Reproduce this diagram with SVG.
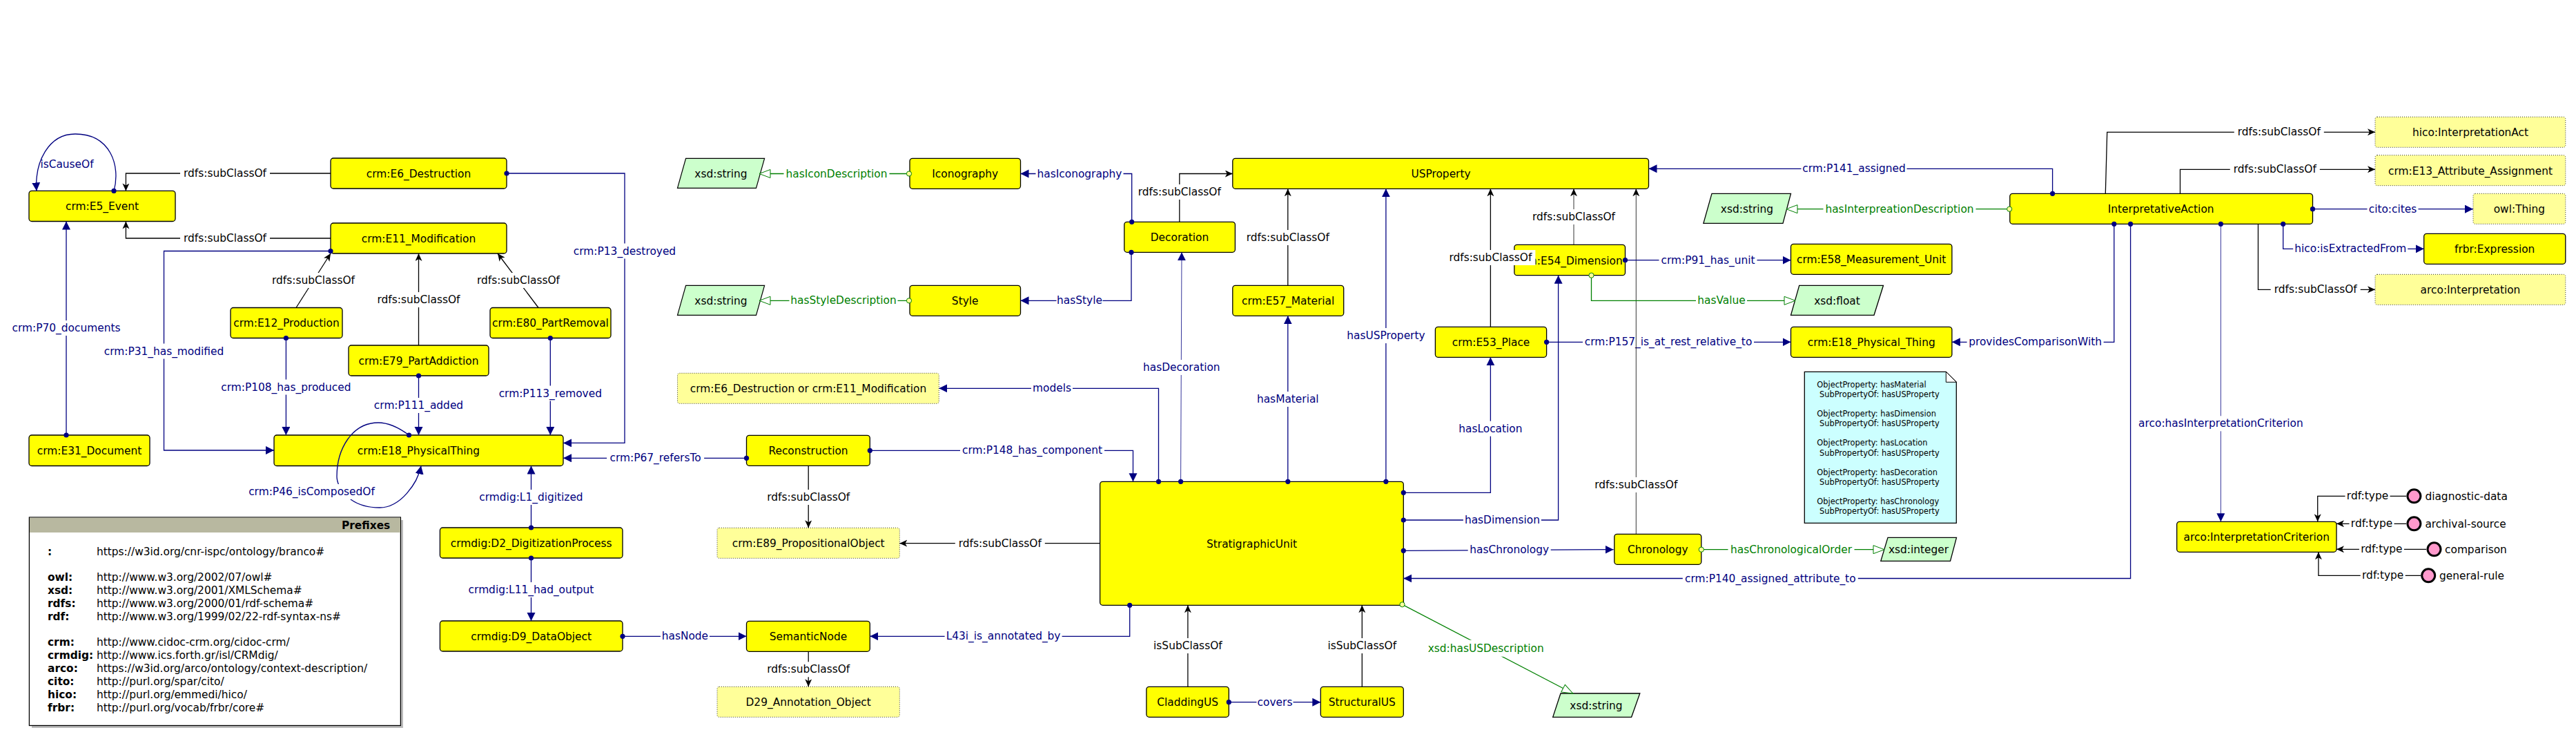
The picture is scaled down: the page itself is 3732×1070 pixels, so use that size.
<svg xmlns="http://www.w3.org/2000/svg" width="3732" height="1070" viewBox="0 0 3732 1070">
<style>
text{font-family:"DejaVu Sans","Liberation Sans",sans-serif;font-size:15.4px;text-anchor:middle;fill:#000}
.n{fill:#ff0;stroke:#000;stroke-width:1.3}
.d{fill:#ff9;stroke:#333;stroke-width:1;stroke-dasharray:1 2}
.p{fill:#cfc;stroke:#000;stroke-width:1.2}
.l text,.i text{text-anchor:start}
.bg{fill:#fff}
path{fill:none;stroke-width:1.3}
.o path{stroke:#000080;marker-start:url(#dot);marker-end:url(#na)}
.o text{fill:#000080}
.s path{stroke:#000;marker-end:url(#ba)}
.g path{stroke:#008000;marker-start:url(#oc);marker-end:url(#gt)}
.g text{fill:#008000}
path.t{stroke-width:.8}
.i ellipse{fill:#f9c;stroke:#000;stroke-width:3}
#note text{font-size:11.4px;text-anchor:start}
#prefixes b,.h{font-weight:bold}
</style>
<defs>
<marker id="dot" markerUnits="userSpaceOnUse" markerWidth="10" markerHeight="10" refX="5" refY="5"><circle cx="5" cy="5" r="3.6" fill="#000080"/></marker>
<marker id="oc" markerUnits="userSpaceOnUse" markerWidth="10" markerHeight="10" refX="5" refY="5"><circle cx="5" cy="5" r="3.6" fill="#ff9" stroke="#008000"/></marker>
<marker id="na" markerUnits="userSpaceOnUse" markerWidth="14" markerHeight="14" refX="12" refY="6" orient="auto"><path d="M0,0L12,6L0,12Z" style="fill:#000080;stroke:none"/></marker>
<marker id="ba" markerUnits="userSpaceOnUse" markerWidth="14" markerHeight="14" refX="11" refY="5" orient="auto"><path d="M0,0L11,5L0,10L3,5Z" style="fill:#000;stroke:none"/></marker>
<marker id="gt" markerUnits="userSpaceOnUse" markerWidth="20" markerHeight="16" refX="17" refY="7" orient="auto"><path d="M1,1L17,7L1,13Z" style="fill:#fff;stroke:#008000;stroke-width:1"/></marker>
</defs>
<rect width="3732" height="1070" fill="#fff"/>

<g id="E5"><rect class="n" x="42" y="276.4" width="212" height="44.1" rx="4"/><text x="148" y="304">crm:E5_Event</text></g>
<g id="E6"><rect class="n" x="479" y="229" width="255" height="44" rx="4"/><text x="606.5" y="256.5">crm:E6_Destruction</text></g>
<g id="E11"><rect class="n" x="479" y="323" width="255" height="44" rx="4"/><text x="606.5" y="350.5">crm:E11_Modification</text></g>
<g id="E12"><rect class="n" x="334" y="445.5" width="162" height="44" rx="4"/><text x="415" y="473">crm:E12_Production</text></g>
<g id="E79"><rect class="n" x="505" y="500" width="203" height="44" rx="4"/><text x="606.5" y="527.5">crm:E79_PartAddiction</text></g>
<g id="E80"><rect class="n" x="710" y="445.5" width="175" height="44" rx="4"/><text x="797.5" y="473">crm:E80_PartRemoval</text></g>
<g id="E31"><rect class="n" x="42" y="630" width="175" height="44.5" rx="4"/><text x="129.5" y="657.5">crm:E31_Document</text></g>
<g id="E18"><rect class="n" x="397" y="630" width="419" height="44.5" rx="4"/><text x="606.5" y="657.5">crm:E18_PhysicalThing</text></g>
<g id="D2"><rect class="n" x="637.4" y="764" width="264.6" height="44" rx="4"/><text x="769.7" y="791.5">crmdig:D2_DigitizationProcess</text></g>
<g id="D9"><rect class="n" x="637.4" y="899" width="264.6" height="44" rx="4"/><text x="769.7" y="927">crmdig:D9_DataObject</text></g>
<g id="string1"><path class="p" d="M993.6,229.3H1107.6L1095.5,272.3H981.5Z" style="fill:#cfc;stroke:#000"/><text x="1044.5" y="256.5">xsd:string</text></g>
<g id="string2"><path class="p" d="M993.6,413.3H1107.6L1095.5,456.3H981.5Z" style="fill:#cfc;stroke:#000"/><text x="1044.5" y="440.5">xsd:string</text></g>
<g id="Iconography"><rect class="n" x="1318" y="229.3" width="160.5" height="44" rx="4"/><text x="1398.2" y="257">Iconography</text></g>
<g id="Style"><rect class="n" x="1318" y="413.3" width="160.5" height="44" rx="4"/><text x="1398.2" y="441">Style</text></g>
<g id="Decoration"><rect class="n" x="1628.8" y="321.3" width="160.6" height="44" rx="4"/><text x="1709" y="349">Decoration</text></g>
<g id="USProperty"><rect class="n" x="1785.8" y="229.3" width="602.7" height="44" rx="4"/><text x="2087.5" y="257">USProperty</text></g>
<g id="E57"><rect class="n" x="1785.8" y="413.3" width="160.9" height="44" rx="4"/><text x="1866.2" y="441">crm:E57_Material</text></g>
<g id="E6orE11"><rect class="d" x="981.5" y="540.3" width="378.8" height="44" rx="3"/><text x="1171" y="568">crm:E6_Destruction or crm:E11_Modification</text></g>
<g id="Reconstruction"><rect class="n" x="1081.5" y="630.3" width="178.8" height="44" rx="4"/><text x="1171" y="658">Reconstruction</text></g>
<g id="E89"><rect class="d" x="1039" y="764.3" width="264.3" height="44" rx="3"/><text x="1171.2" y="792">crm:E89_PropositionalObject</text></g>
<g id="SemanticNode"><rect class="n" x="1081.5" y="899.3" width="178.8" height="44" rx="4"/><text x="1171" y="927">SemanticNode</text></g>
<g id="D29"><rect class="d" x="1039" y="994.3" width="264.3" height="44" rx="3"/><text x="1171.2" y="1022">D29_Annotation_Object</text></g>
<g id="StratigraphicUnit"><rect class="n" x="1593.6" y="697.3" width="439.7" height="179" rx="4"/><text x="1813.5" y="792.5">StratigraphicUnit</text></g>
<g id="CladdingUS"><rect class="n" x="1660.9" y="994.3" width="119.4" height="44" rx="4"/><text x="1720.6" y="1022">CladdingUS</text></g>
<g id="StructuralUS"><rect class="n" x="1913.3" y="994.3" width="120" height="44" rx="4"/><text x="1973.3" y="1022">StructuralUS</text></g>
<g id="E53"><rect class="n" x="2079.4" y="473.3" width="161.2" height="44" rx="4"/><text x="2160" y="501">crm:E53_Place</text></g>
<g id="E54"><rect class="n" x="2193.9" y="354.3" width="160.6" height="44.4" rx="4"/><text x="2274" y="382.5">crm:E54_Dimension</text></g>
<g id="E58"><rect class="n" x="2594.5" y="353.3" width="233.4" height="44" rx="4"/><text x="2711.2" y="381">crm:E58_Measurement_Unit</text></g>
<g id="E18b"><rect class="n" x="2594.5" y="473.3" width="233.4" height="44" rx="4"/><text x="2711.2" y="501">crm:E18_Physical_Thing</text></g>
<g id="string3"><path d="M2480,280.3H2594.5L2583,323.3H2467.9Z" style="fill:#cfc;stroke:#000"/><text x="2531" y="308">xsd:string</text></g>
<g id="float"><path d="M2606.7,413.3H2728.5L2715,456.3H2594.5Z" style="fill:#cfc;stroke:#000"/><text x="2661.5" y="441">xsd:float</text></g>
<g id="Chronology"><rect class="n" x="2338.8" y="773.3" width="126" height="44" rx="4"/><text x="2401.8" y="801">Chronology</text></g>
<g id="integer"><path d="M2735,778.3H2834.5L2825.5,812.3H2724.8Z" style="fill:#cfc;stroke:#000"/><text x="2779.5" y="801">xsd:integer</text></g>
<g id="string4"><path d="M2261,1004H2375.8L2363.6,1038.3H2249.7Z" style="fill:#cfc;stroke:#000"/><text x="2312.5" y="1027">xsd:string</text></g>
<g id="note"><path d="M2614.3,538.3H2819.3L2834.3,553.3V757.3H2614.3Z" style="fill:#cff;stroke:#000"/><path d="M2819.3,538.3V553.3H2834.3Z" style="fill:#fff;stroke:#000;stroke-width:1"/>
<text x="2632.3" y="560.7">ObjectProperty: hasMaterial</text><text x="2636" y="575">SubPropertyOf: hasUSProperty</text>
<text x="2632.3" y="602.7">ObjectProperty: hasDimension</text><text x="2636" y="616.7">SubPropertyOf: hasUSProperty</text>
<text x="2632.3" y="644.7">ObjectProperty: hasLocation</text><text x="2636" y="660">SubPropertyOf: hasUSProperty</text>
<text x="2632.3" y="687.7">ObjectProperty: hasDecoration</text><text x="2636" y="702">SubPropertyOf: hasUSProperty</text>
<text x="2632.3" y="730">ObjectProperty: hasChronology</text><text x="2636" y="744">SubPropertyOf: hasUSProperty</text></g>
<g id="InterpretativeAction"><rect class="n" x="2911.8" y="280.3" width="438.7" height="44" rx="4"/><text x="3130.6" y="308">InterpretativeAction</text></g>
<g id="hico"><rect class="d" x="3441" y="169.3" width="275.8" height="44" rx="3"/><text x="3579" y="197">hico:InterpretationAct</text></g>
<g id="E13"><rect class="d" x="3441" y="224.7" width="275.8" height="44" rx="3"/><text x="3579" y="252.5">crm:E13_Attribute_Assignment</text></g>
<g id="owlThing"><rect class="d" x="3583" y="280.3" width="133.8" height="44" rx="3"/><text x="3649.9" y="308">owl:Thing</text></g>
<g id="Expression"><rect class="n" x="3511.7" y="338.3" width="205.1" height="44" rx="4"/><text x="3614.2" y="366">frbr:Expression</text></g>
<g id="arcoInterpretation"><rect class="d" x="3441" y="397.3" width="275.8" height="44" rx="3"/><text x="3579" y="425">arco:Interpretation</text></g>
<g id="Criterion"><rect class="n" x="3153.7" y="755.3" width="231.3" height="44" rx="4"/><text x="3269.3" y="783">arco:InterpretationCriterion</text></g>
<g id="diagnostic" class="i"><ellipse cx="3497.4" cy="718.3" rx="9.5" ry="9.5"/><text x="3513.4" y="724">diagnostic-data</text></g>
<g id="archival" class="i"><ellipse cx="3497.4" cy="758.3" rx="9.5" ry="9.5"/><text x="3513.4" y="764">archival-source</text></g>
<g id="comparison" class="i"><ellipse cx="3526.5" cy="795.3" rx="9.5" ry="9.5"/><text x="3542" y="801">comparison</text></g>
<g id="general" class="i"><ellipse cx="3518.2" cy="833.3" rx="9.5" ry="9.5"/><text x="3534" y="839">general-rule</text></g>

<g id="prefixes"><rect x="46" y="753" width="538" height="301" fill="#bbb"/><rect x="42.4" y="749" width="538" height="301.5" fill="#fff" stroke="#000" stroke-width="1.3"/><rect x="43" y="749.6" width="537" height="21.4" fill="#b8b8a0"/>
<g class="l"><text class="h" x="495" y="766">Prefixes</text>
<text class="h" x="69" y="804">:</text><text x="140" y="804">https://w3id.org/cnr-ispc/ontology/branco#</text>
<text class="h" x="69" y="841">owl:</text><text x="140" y="841">http://www.w3.org/2002/07/owl#</text>
<text class="h" x="69" y="860">xsd:</text><text x="140" y="860">http://www.w3.org/2001/XMLSchema#</text>
<text class="h" x="69" y="879">rdfs:</text><text x="140" y="879">http://www.w3.org/2000/01/rdf-schema#</text>
<text class="h" x="69" y="898">rdf:</text><text x="140" y="898">http://www.w3.org/1999/02/22-rdf-syntax-ns#</text>
<text class="h" x="69" y="935">crm:</text><text x="140" y="935">http://www.cidoc-crm.org/cidoc-crm/</text>
<text class="h" x="69" y="954">crmdig:</text><text x="140" y="954">http://www.ics.forth.gr/isl/CRMdig/</text>
<text class="h" x="69" y="973">arco:</text><text x="140" y="973">https://w3id.org/arco/ontology/context-description/</text>
<text class="h" x="69" y="992">cito:</text><text x="140" y="992">http://purl.org/spar/cito/</text>
<text class="h" x="69" y="1011">hico:</text><text x="140" y="1011">http://purl.org/emmedi/hico/</text>
<text class="h" x="69" y="1030">frbr:</text><text x="140" y="1030">http://purl.org/vocab/frbr/core#</text></g></g>

<g id="connectors">
<g class="o"><path d="M165,276.4C175,240 160,194 109,194C70,194 50,235 53,276.4"/><text x="97" y="243">isCauseOf</text></g>
<g class="s"><path d="M479,251H182.4V276.4"/><rect class="bg" x="261" y="240" width="130" height="22"/><text x="326" y="256">rdfs:subClassOf</text></g>
<g class="s"><path d="M479,345H182.4V320.5"/><rect class="bg" x="261" y="334" width="130" height="22"/><text x="326" y="350">rdfs:subClassOf</text></g>
<g class="o"><path d="M96,630V320.5"/><rect class="bg" x="15" y="464" width="162" height="22"/><text x="96" y="480">crm:P70_documents</text></g>
<g class="o"><path d="M479,363.5H237.5V652H397"/><rect class="bg" x="148" y="497.5" width="179" height="22"/><text x="237.5" y="513.5">crm:P31_has_modified</text></g>
<g class="o"><path d="M734,251H905V641.4H816"/><rect class="bg" x="829" y="352.5" width="152" height="22"/><text x="905" y="368.5">crm:P13_destroyed</text></g>
<g class="s"><path d="M429,445.5L479,367"/><rect class="bg" x="389" y="395" width="130" height="22"/><text x="454" y="411">rdfs:subClassOf</text></g>
<g class="s"><path d="M606.5,500V367"/><rect class="bg" x="541.5" y="423" width="130" height="22"/><text x="606.5" y="439">rdfs:subClassOf</text></g>
<g class="s"><path d="M780,445.5L721,367"/><rect class="bg" x="686" y="395" width="130" height="22"/><text x="751" y="411">rdfs:subClassOf</text></g>
<g class="o"><path d="M414.4,489.5V630"/><rect class="bg" x="317.4" y="549.5" width="194" height="22"/><text x="414.4" y="565.5">crm:P108_has_produced</text></g>
<g class="o"><path d="M606.5,544V630"/><rect class="bg" x="540.5" y="576" width="132" height="22"/><text x="606.5" y="592">crm:P111_added</text></g>
<g class="o"><path d="M797.3,489.5V630"/><rect class="bg" x="721.3" y="558.5" width="152" height="22"/><text x="797.3" y="574.5">crm:P113_removed</text></g>
<g class="o"><path d="M1081.5,663.3H816"/><rect class="bg" x="879.1" y="652.3" width="141" height="22"/><text x="949.6" y="668.3">crm:P67_refersTo</text></g>
<g class="o"><path d="M592.5,630C575,617 560,612 548,612C510,612 488,650 488,690C488,705 505,735 550,735C580,735 605,700 610,674.5"/><rect class="bg" x="356.5" y="701" width="190" height="22"/><text x="451.5" y="717">crm:P46_isComposedOf</text></g>
<g class="o"><path d="M769.5,764V674.5"/><rect class="bg" x="690.5" y="709" width="158" height="22"/><text x="769.5" y="725">crmdig:L1_digitized</text></g>
<g class="o"><path d="M769.5,808V899"/><rect class="bg" x="675.5" y="843" width="188" height="22"/><text x="769.5" y="859">crmdig:L11_had_output</text></g>
<g class="o"><path d="M902,921.3H1081.5"/><rect class="bg" x="956.9" y="910.3" width="71" height="22"/><text x="992.4" y="926.3">hasNode</text></g>
<g class="s"><path d="M1171.2,943.3V994.3"/><rect class="bg" x="1106.2" y="958.3" width="130" height="22"/><text x="1171.2" y="974.3">rdfs:subClassOf</text></g>
<g class="s"><path d="M1171.2,674.3V764.3"/><rect class="bg" x="1106.2" y="709" width="130" height="22"/><text x="1171.2" y="725">rdfs:subClassOf</text></g>
<g class="s"><path d="M1593.6,786.7H1303.3"/><rect class="bg" x="1383.8" y="775.7" width="130" height="22"/><text x="1448.8" y="791.7">rdfs:subClassOf</text></g>
<g class="o"><path d="M1636.7,876.3V921.3H1260.3"/><rect class="bg" x="1368.6" y="910.3" width="170" height="22"/><text x="1453.6" y="926.3">L43i_is_annotated_by</text></g>
<g class="o"><path d="M1260.3,652.3H1641.5V697.3"/><rect class="bg" x="1391" y="641.3" width="209" height="22"/><text x="1495.5" y="657.3">crm:P148_has_component</text></g>
<g class="o"><path d="M1678.5,697.3V562.3H1360.3"/><rect class="bg" x="1494" y="551.3" width="60" height="22"/><text x="1524" y="567.3">models</text></g>
<g class="o"><path class="t" d="M1710.6,697.3L1712,365.3"/><rect class="bg" x="1654.8" y="521" width="114" height="22"/><text x="1711.8" y="537">hasDecoration</text></g>
<g class="o"><path d="M1865.8,697.3V457.3"/><rect class="bg" x="1819.3" y="567" width="93" height="22"/><text x="1865.8" y="583">hasMaterial</text></g>
<g class="s"><path d="M1865.8,413.3V273.3"/><rect class="bg" x="1800.8" y="333" width="130" height="22"/><text x="1865.8" y="349">rdfs:subClassOf</text></g>
<g class="s"><path d="M1708.8,321.3V251.5H1785.8"/><rect class="bg" x="1643.8" y="267" width="130" height="22"/><text x="1708.8" y="283">rdfs:subClassOf</text></g>
<g class="o"><path d="M1639.7,321.3V251.5H1478.5"/><rect class="bg" x="1500.5" y="240.5" width="127" height="22"/><text x="1564" y="256.5">hasIconography</text></g>
<g class="o"><path d="M1639,365.3V435.3H1478.5"/><rect class="bg" x="1530.5" y="424.3" width="67" height="22"/><text x="1564" y="440.3">hasStyle</text></g>
<g class="g"><path d="M1317,251.5H1100"/><rect class="bg" x="1135.5" y="240.5" width="153" height="22"/><text x="1212" y="256.5">hasIconDescription</text></g>
<g class="g"><path d="M1317,435.3H1100"/><rect class="bg" x="1143.5" y="424.3" width="157" height="22"/><text x="1222" y="440.3">hasStyleDescription</text></g>
<g class="s"><path d="M1720.9,994.3V876.3"/><rect class="bg" x="1668.4" y="924" width="105" height="22"/><text x="1720.9" y="940">isSubClassOf</text></g>
<g class="o"><path d="M1780.3,1016.7H1913.3"/><rect class="bg" x="1820.5" y="1005.7" width="53" height="22"/><text x="1847" y="1021.7">covers</text></g>
<g class="s"><path d="M1973.3,994.3V876.3"/><rect class="bg" x="1920.8" y="924" width="105" height="22"/><text x="1973.3" y="940">isSubClassOf</text></g>
<g class="o"><path d="M2007.9,697.3V273.3"/><rect class="bg" x="1949.4" y="475" width="117" height="22"/><text x="2007.9" y="491">hasUSProperty</text></g>
<g class="o"><path d="M2033.3,713.3H2159.4V517.3"/><rect class="bg" x="2111.4" y="609.7" width="96" height="22"/><text x="2159.4" y="625.7">hasLocation</text></g>
<g class="o"><path d="M2033.3,753H2257.6V398.7"/><rect class="bg" x="2119.9" y="742" width="113" height="22"/><text x="2176.4" y="758">hasDimension</text></g>
<g class="o"><path d="M2033.3,797.3L2337.6,795.7"/><rect class="bg" x="2126.7" y="785" width="120" height="22"/><text x="2186.7" y="801">hasChronology</text></g>
<g class="o"><path d="M2240.6,495.3H2594.5"/><rect class="bg" x="2293" y="484.3" width="248" height="22"/><text x="2417" y="500.3">crm:P157_is_at_rest_relative_to</text></g>
<g class="s"><path class="t" d="M2370.3,773.3V273.3"/><rect class="bg" x="2305.3" y="691" width="130" height="22"/><text x="2370.3" y="707">rdfs:subClassOf</text></g>
<g class="s"><path class="t" d="M2280,354.3V273.3"/><rect class="bg" x="2215" y="303" width="130" height="22"/><text x="2280" y="319">rdfs:subClassOf</text></g>
<g class="s"><path d="M2159.4,473.3V273.3"/><rect class="bg" x="2094.4" y="362" width="130" height="22"/><text x="2159.4" y="378">rdfs:subClassOf</text></g>
<g class="o"><path d="M2354.5,376.7H2594.5"/><rect class="bg" x="2403.5" y="365.7" width="142" height="22"/><text x="2474.5" y="381.7">crm:P91_has_unit</text></g>
<g class="g"><path d="M2305.5,398.7V435.3H2601"/><rect class="bg" x="2457" y="424.3" width="74" height="22"/><text x="2494" y="440.3">hasValue</text></g>
<g class="g"><path d="M2464.8,795.7H2730"/><rect class="bg" x="2503.5" y="784.7" width="183" height="22"/><text x="2595" y="800.7">hasChronologicalOrder</text></g>
<g class="g"><path d="M2031.5,875.3L2278.8,1004"/><rect class="bg" x="2066.7" y="926.7" width="172" height="24"/><text x="2152.7" y="944">xsd:hasUSDescription</text></g>
<g class="o"><path d="M3086.6,324.3V837.5H2033.3"/><rect class="bg" x="2437.8" y="826.5" width="254" height="22"/><text x="2564.8" y="842.5">crm:P140_assigned_attribute_to</text></g>
<g class="o"><path d="M2973.6,280.3V244.3H2388.5"/><rect class="bg" x="2609.5" y="233.3" width="153" height="22"/><text x="2686" y="249.3">crm:P141_assigned</text></g>
<g class="g"><path d="M2911.2,302.7H2588"/><rect class="bg" x="2641.5" y="291.7" width="221" height="22"/><text x="2752" y="307.7">hasInterpreationDescription</text></g>
<g class="o"><path d="M3062.8,324.3V495.3H2827.9"/><rect class="bg" x="2849.6" y="484.3" width="198" height="22"/><text x="2948.6" y="500.3">providesComparisonWith</text></g>
<g class="s"><path d="M3050.3,280.3L3052.7,191.3H3441"/><rect class="bg" x="3236.8" y="180.3" width="130" height="22"/><text x="3301.8" y="196.3">rdfs:subClassOf</text></g>
<g class="s"><path d="M3158.5,280.3V245.3H3441"/><rect class="bg" x="3230.8" y="234.3" width="130" height="22"/><text x="3295.8" y="250.3">rdfs:subClassOf</text></g>
<g class="s"><path d="M3271.5,324.3V419.3H3441"/><rect class="bg" x="3289.7" y="408.3" width="130" height="22"/><text x="3354.7" y="424.3">rdfs:subClassOf</text></g>
<g class="o"><path d="M3350.5,302.7H3583"/><rect class="bg" x="3429.5" y="291.7" width="74" height="22"/><text x="3466.5" y="307.7">cito:cites</text></g>
<g class="o"><path d="M3307.7,324.3V360.3H3511.7"/><rect class="bg" x="3322.2" y="349.3" width="166" height="22"/><text x="3405.2" y="365.3">hico:isExtractedFrom</text></g>
<g class="o"><path class="t" d="M3217.4,324.3V755.3"/><rect class="bg" x="3095.4" y="602.3" width="244" height="22"/><text x="3217.4" y="618.3">arco:hasInterpretationCriterion</text></g>
<g class="s"><path d="M3486,718.3H3357.7V755.3"/><rect class="bg" x="3397.5" y="707.3" width="65" height="22"/><text x="3430" y="723.3">rdf:type</text></g>
<g class="s"><path d="M3486,758.3H3385"/><rect class="bg" x="3403.5" y="747.3" width="65" height="22"/><text x="3436" y="763.3">rdf:type</text></g>
<g class="s"><path d="M3515,795.3H3385"/><rect class="bg" x="3417.9" y="784.3" width="65" height="22"/><text x="3450.4" y="800.3">rdf:type</text></g>
<g class="s"><path d="M3507,833.3H3358.9V799.3"/><rect class="bg" x="3419.7" y="822.3" width="65" height="22"/><text x="3452.2" y="838.3">rdf:type</text></g>
</g>
</svg>
